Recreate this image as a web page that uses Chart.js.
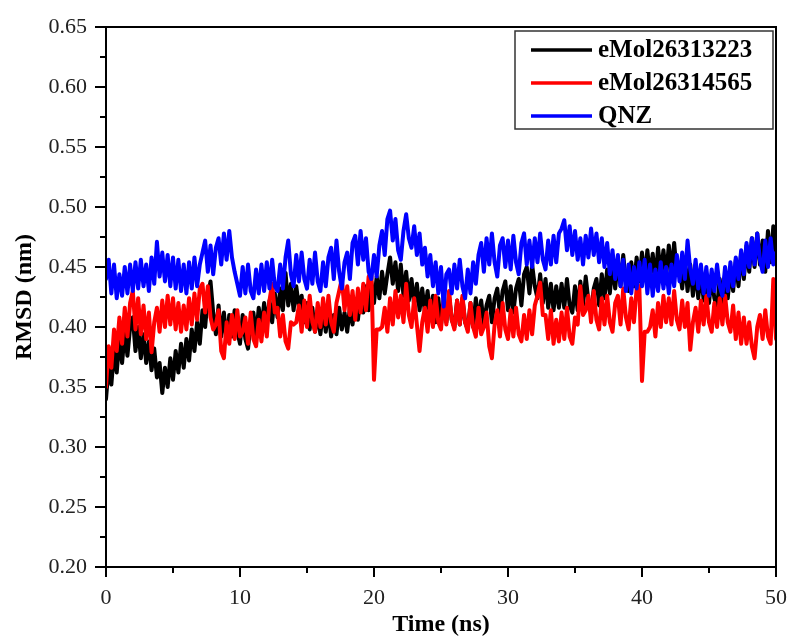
<!DOCTYPE html>
<html>
<head>
<meta charset="utf-8">
<script src="https://cdn.jsdelivr.net/npm/chart.js@4/dist/chart.umd.min.js"></script>
<style>
html,body{margin:0;padding:0;background:#fff;}
#wrap{width:787px;height:637px;}
</style>
</head>
<body>
<div id="wrap"><canvas id="c" width="787" height="637"></canvas></div>
<script>
const seriesNames = ['eMol26313223', 'eMol26314565', 'QNZ'];
const seriesColors = ['#000000', '#ff0000', '#0000ff'];
const xTickValues = [0, 10, 20, 30, 40, 50];
const yTickLabels = ['0.20','0.25','0.30','0.35','0.40','0.45','0.50','0.55','0.60','0.65'];
const timeStepNs = 0.2;

const rmsdBlack = [
0.340,0.368,0.352,0.380,0.362,0.390,0.370,0.396,0.376,0.400,
0.408,0.380,0.400,0.374,0.394,0.370,0.388,0.364,0.382,0.358,
0.370,0.345,0.366,0.350,0.374,0.356,0.380,0.362,0.386,0.366,
0.390,0.372,0.398,0.380,0.404,0.386,0.414,0.400,0.426,0.438,
0.412,0.394,0.418,0.392,0.412,0.388,0.410,0.392,0.414,0.396,
0.386,0.410,0.390,0.382,0.404,0.412,0.392,0.416,0.398,0.420,
0.402,0.422,0.404,0.428,0.408,0.432,0.414,0.445,0.418,0.436,
0.414,0.434,0.416,0.426,0.404,0.420,0.398,0.416,0.396,0.410,
0.394,0.414,0.396,0.416,0.392,0.410,0.394,0.416,0.398,0.412,
0.396,0.416,0.402,0.422,0.406,0.426,0.412,0.434,0.414,0.438,
0.420,0.442,0.424,0.446,0.428,0.444,0.458,0.436,0.454,0.430,
0.452,0.426,0.446,0.422,0.440,0.418,0.436,0.414,0.432,0.412,
0.430,0.408,0.426,0.404,0.424,0.402,0.422,0.404,0.426,0.406,
0.400,0.422,0.402,0.424,0.404,0.398,0.420,0.400,0.424,0.404,
0.422,0.402,0.418,0.426,0.404,0.424,0.432,0.410,0.430,0.438,
0.414,0.434,0.412,0.432,0.440,0.418,0.444,0.450,0.428,0.452,
0.434,0.424,0.444,0.420,0.440,0.416,0.436,0.414,0.434,0.416,
0.436,0.416,0.440,0.418,0.412,0.434,0.414,0.438,0.418,0.442,
0.422,0.412,0.432,0.440,0.418,0.444,0.424,0.448,0.428,0.452,
0.432,0.456,0.434,0.460,0.438,0.430,0.454,0.434,0.458,0.438,
0.462,0.440,0.464,0.442,0.461,0.439,0.466,0.444,0.464,0.442,
0.468,0.446,0.470,0.444,0.450,0.432,0.456,0.430,0.452,0.426,
0.448,0.424,0.446,0.422,0.444,0.420,0.442,0.424,0.416,0.440,
0.420,0.444,0.424,0.448,0.430,0.456,0.434,0.462,0.440,0.468,
0.446,0.474,0.450,0.478,0.452,0.472,0.446,0.480,0.454,0.484,0.462
];

const rmsdRed = [
0.350,0.384,0.366,0.398,0.380,0.408,0.386,0.416,0.392,0.420,
0.430,0.398,0.424,0.394,0.418,0.390,0.412,0.379,0.404,0.416,
0.396,0.422,0.400,0.426,0.402,0.424,0.398,0.420,0.396,0.418,
0.398,0.424,0.402,0.428,0.406,0.432,0.436,0.412,0.434,0.408,
0.398,0.402,0.414,0.380,0.374,0.404,0.386,0.410,0.390,0.414,
0.392,0.396,0.408,0.386,0.412,0.390,0.384,0.406,0.388,0.412,
0.392,0.422,0.436,0.412,0.416,0.392,0.410,0.388,0.382,0.404,
0.402,0.404,0.418,0.396,0.422,0.400,0.426,0.404,0.396,0.420,
0.400,0.424,0.402,0.426,0.404,0.396,0.420,0.430,0.440,0.414,
0.434,0.410,0.430,0.406,0.432,0.412,0.436,0.414,0.442,0.446,
0.356,0.398,0.398,0.400,0.416,0.396,0.424,0.402,0.430,0.408,
0.426,0.404,0.436,0.410,0.400,0.424,0.402,0.380,0.404,0.416,
0.396,0.422,0.400,0.426,0.404,0.398,0.424,0.402,0.430,0.406,
0.398,0.422,0.402,0.426,0.404,0.396,0.420,0.400,0.392,0.416,
0.394,0.400,0.412,0.384,0.374,0.402,0.414,0.392,0.420,0.398,
0.390,0.414,0.392,0.416,0.394,0.388,0.410,0.390,0.414,0.394,
0.418,0.426,0.437,0.410,0.410,0.390,0.414,0.386,0.406,0.388,
0.412,0.390,0.416,0.392,0.386,0.408,0.402,0.434,0.410,0.414,
0.426,0.404,0.430,0.406,0.398,0.424,0.402,0.426,0.404,0.396,
0.420,0.426,0.402,0.432,0.408,0.398,0.424,0.404,0.432,0.434,
0.355,0.396,0.396,0.400,0.414,0.392,0.420,0.400,0.426,0.404,
0.424,0.402,0.430,0.406,0.398,0.422,0.400,0.420,0.381,0.404,
0.416,0.396,0.422,0.402,0.426,0.404,0.396,0.420,0.400,0.424,
0.402,0.426,0.404,0.396,0.418,0.390,0.412,0.386,0.408,0.386,
0.404,0.384,0.374,0.400,0.410,0.390,0.414,0.392,0.386,0.440,0.390
];

const rmsdBlue = [
0.440,0.456,0.428,0.452,0.424,0.444,0.426,0.450,0.428,0.452,
0.430,0.454,0.432,0.456,0.434,0.452,0.430,0.458,0.436,0.471,
0.442,0.462,0.438,0.460,0.434,0.458,0.432,0.456,0.430,0.452,
0.428,0.454,0.432,0.458,0.434,0.452,0.462,0.472,0.446,0.468,
0.444,0.466,0.474,0.452,0.478,0.456,0.480,0.458,0.446,0.436,
0.426,0.450,0.428,0.452,0.430,0.424,0.448,0.428,0.452,0.430,
0.454,0.432,0.456,0.434,0.430,0.452,0.432,0.458,0.472,0.444,
0.434,0.460,0.438,0.462,0.440,0.432,0.456,0.436,0.462,0.438,
0.430,0.454,0.434,0.458,0.466,0.440,0.472,0.446,0.432,0.454,
0.462,0.440,0.470,0.476,0.452,0.480,0.456,0.474,0.446,0.440,
0.460,0.442,0.468,0.480,0.460,0.490,0.497,0.472,0.490,0.464,
0.456,0.480,0.494,0.474,0.466,0.484,0.460,0.478,0.452,0.466,
0.442,0.460,0.434,0.454,0.428,0.450,0.417,0.444,0.448,0.428,
0.452,0.432,0.456,0.434,0.424,0.448,0.428,0.454,0.436,0.460,
0.470,0.446,0.474,0.452,0.478,0.454,0.442,0.468,0.474,0.450,
0.472,0.448,0.476,0.454,0.444,0.470,0.478,0.452,0.472,0.450,
0.474,0.454,0.478,0.456,0.448,0.472,0.452,0.476,0.454,0.478,
0.482,0.489,0.464,0.484,0.460,0.480,0.456,0.474,0.452,0.476,
0.458,0.482,0.460,0.478,0.454,0.474,0.450,0.470,0.444,0.464,
0.440,0.460,0.434,0.456,0.430,0.452,0.428,0.450,0.432,0.454,
0.434,0.456,0.428,0.452,0.426,0.448,0.430,0.454,0.432,0.450,
0.428,0.452,0.434,0.460,0.438,0.462,0.440,0.472,0.448,0.436,
0.456,0.432,0.452,0.428,0.450,0.426,0.448,0.430,0.452,0.434,
0.426,0.450,0.430,0.454,0.434,0.458,0.440,0.464,0.444,0.470,
0.450,0.474,0.452,0.478,0.456,0.446,0.472,0.450,0.474,0.452,0.462
];

// sampling grid (time axis)
const timesNs = rmsdBlack.map((_, i) => +(i * timeStepNs).toFixed(1));
const seriesValues = [rmsdBlack, rmsdRed, rmsdBlue];

const SERIF = '"Liberation Serif", "Times New Roman", "DejaVu Serif", serif';

const datasets = seriesValues.map((vals, k) => ({
  label: seriesNames[k],
  data: vals.map((v, i) => ({x: timesNs[i], y: v})),
  borderColor: seriesColors[k],
  backgroundColor: seriesColors[k],
  borderWidth: 4,
  borderJoinStyle: 'round',
  borderCapStyle: 'round',
  pointRadius: 0,
  tension: 0,
  fill: false,
  order: 3 - k
}));

const framePlugin = {
  id: 'frameAndExtras',
  afterDraw(chart) {
    const {ctx, chartArea: a, scales: {x, y}} = chart;
    ctx.save();
    // minor ticks
    ctx.strokeStyle = '#000';
    ctx.lineWidth = 2;
    ctx.beginPath();
    for (let i = 0; i < yTickLabels.length - 1; i++) {
      const v = (parseFloat(yTickLabels[i]) + parseFloat(yTickLabels[i + 1])) / 2;
      const py = Math.round(y.getPixelForValue(v));
      ctx.moveTo(a.left - 6, py);
      ctx.lineTo(a.left, py);
    }
    for (let i = 0; i < xTickValues.length - 1; i++) {
      const v = (xTickValues[i] + xTickValues[i + 1]) / 2;
      const px = Math.round(x.getPixelForValue(v));
      ctx.moveTo(px, a.bottom);
      ctx.lineTo(px, a.bottom + 6);
    }
    ctx.stroke();
    // frame
    ctx.lineWidth = 2;
    ctx.strokeRect(a.left, a.top, a.right - a.left, a.bottom - a.top);

    // legend box
    const bx = a.right - 261, by = a.top + 4, bw = 258, bh = 98;
    ctx.fillStyle = '#fff';
    ctx.fillRect(bx, by, bw, bh);
    ctx.strokeStyle = '#333';
    ctx.lineWidth = 1.5;
    ctx.strokeRect(bx, by, bw, bh);
    ctx.font = 'bold 25px ' + SERIF;
    ctx.textBaseline = 'middle';
    ctx.textAlign = 'left';
    seriesNames.forEach((name, k) => {
      const ly = by + 19 + k * 33;
      ctx.strokeStyle = seriesColors[k];
      ctx.lineWidth = 3.5;
      ctx.beginPath();
      ctx.moveTo(bx + 16, ly);
      ctx.lineTo(bx + 77, ly);
      ctx.stroke();
      ctx.fillStyle = '#000';
      ctx.fillText(name, bx + 83, ly + 1);
    });
    ctx.restore();
  }
};

new Chart(document.getElementById('c'), {
  type: 'line',
  data: {datasets},
  options: {
    responsive: false,
    animation: false,
    events: [],
    layout: {padding: {top: 27, right: 11, left: 0, bottom: 0}},
    plugins: {legend: {display: false}, tooltip: {enabled: false}},
    scales: {
      x: {
        type: 'linear',
        min: 0, max: 50,
        afterBuildTicks(s) { s.ticks = xTickValues.map(v => ({value: v})); },
        afterFit(s) { s.height = 70; s.paddingLeft = 0; s.paddingRight = 0; },
        grid: {drawOnChartArea: false, drawTicks: true, tickLength: 10, color: '#000', lineWidth: 2},
        border: {display: true, color: '#000', width: 2},
        ticks: {color: '#222', font: {family: SERIF, size: 22}, padding: 8, maxRotation: 0,
                callback: v => String(v)},
        title: {display: true, text: 'Time (ns)', color: '#000',
                font: {family: SERIF, size: 24, weight: 'bold', lineHeight: 1},
                padding: {top: 0, bottom: 0}}
      },
      y: {
        type: 'linear',
        min: 0.2, max: 0.65,
        afterBuildTicks(s) { s.ticks = yTickLabels.map(t => ({value: parseFloat(t)})); },
        afterFit(s) { s.width = 106; s.paddingTop = 0; s.paddingBottom = 0; },
        grid: {drawOnChartArea: false, drawTicks: true, tickLength: 11, color: '#000', lineWidth: 2},
        border: {display: true, color: '#000', width: 2},
        ticks: {color: '#222', font: {family: SERIF, size: 22}, padding: 8,
                callback: (v, i) => yTickLabels[i]},
        title: {display: true, text: 'RMSD (nm)', color: '#000',
                font: {family: SERIF, size: 24, weight: 'bold', lineHeight: 1},
                padding: {top: 13, bottom: 0}}
      }
    }
  },
  plugins: [framePlugin]
});
</script>
</body>
</html>
